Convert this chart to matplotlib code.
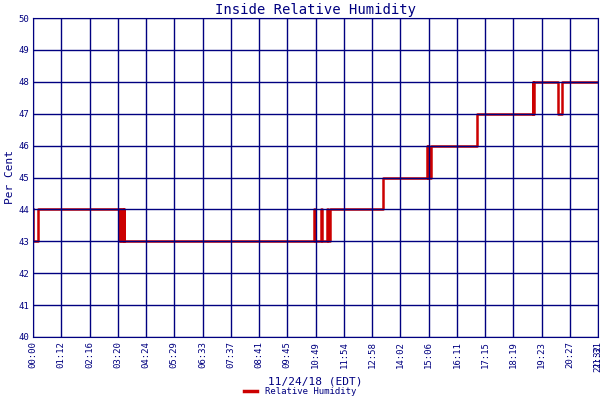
import matplotlib
matplotlib.use("Agg")
import matplotlib.pyplot as plt
from matplotlib.lines import Line2D

times = [0, 1, 11, 197, 199, 201, 203, 205, 207, 209, 643, 645, 659, 661, 673, 675, 678,
         799, 900, 902, 904, 906, 909, 1016, 1142, 1144, 1146, 1199, 1209, 1292]
values = [44, 43, 44, 43, 44, 43, 44, 43, 44, 43, 44, 43, 44, 43, 44, 43, 44,
          45, 46, 45, 46, 45, 46, 47, 48, 47, 48, 47, 48, 48]
tick_labels = ["00:00", "01:12", "02:16", "03:20", "04:24", "05:29", "06:33", "07:37",
               "08:41", "09:45", "10:49", "11:54", "12:58", "14:02", "15:06", "16:11",
               "17:15", "18:19", "19:23", "20:27", "21:31"]
navy = "#000080"
font = "DejaVu Sans Mono"

fig = plt.figure(figsize=(6, 4), dpi=100)
ax = fig.add_axes([0.055, 0.1575, 0.942, 0.7975])
ax.step(times, values, where="post", color="#cc0000", lw=1.8, zorder=2)
ax.set_xlim(0, 1292)
ax.set_ylim(40, 50)
tpos = [i * 1292 / 20 for i in range(21)]
ax.set_xticks(tpos)
ax.set_xticklabels(tick_labels, rotation=90, fontsize=6.5, color=navy, family=font)
ax.text(1292, 39.75, "21:32", rotation=90, fontsize=6.5, color=navy, family=font,
        ha="center", va="top", transform=ax.transData)
ax.set_yticks(range(40, 51))
ax.set_yticklabels([str(v) for v in range(40, 51)], fontsize=6.5, color=navy, family=font)
ax.grid(True, color=navy, lw=1.0, zorder=3)
ax.set_axisbelow(False)
for s in ax.spines.values():
    s.set_color(navy)
ax.tick_params(colors=navy, length=0, pad=3)
ax.set_title("Inside Relative Humidity", fontsize=10, color=navy, family=font, pad=3)
ax.set_ylabel("Per Cent", fontsize=8, color=navy, family=font, labelpad=2)
ax.set_xlabel("11/24/18 (EDT)", fontsize=8, color=navy, family=font, labelpad=6)
h = Line2D([], [], color="#cc0000", lw=2.5)
fig.legend([h], ["Relative Humidity"], loc="lower center", bbox_to_anchor=(0.5, -0.01),
           frameon=False, prop={"family": font, "size": 6.5}, labelcolor=navy,
           handlelength=1.5)
fig.savefig("out.png", dpi=100)
